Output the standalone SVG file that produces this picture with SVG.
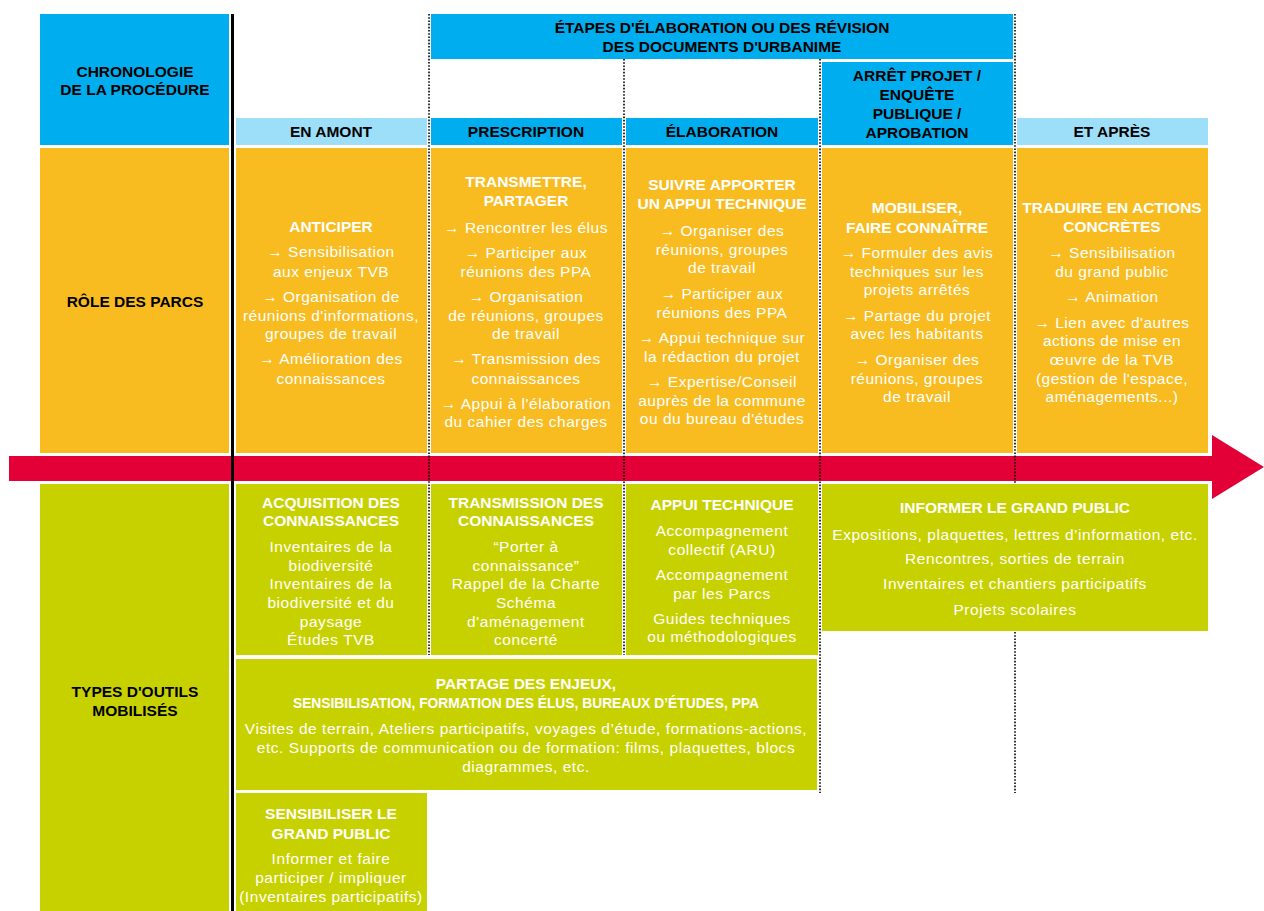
<svg xmlns="http://www.w3.org/2000/svg" width="1264" height="911" viewBox="0 0 1264 911">
<style>
.blue{fill:#00ADEE}
.lblue{fill:#9DDEF8}
.orange{fill:#F8BC21}
.green{fill:#C8D100}
text{font-family:"Liberation Sans",Arial,sans-serif;text-anchor:middle}
.hk{font-weight:700;font-size:15.5px;fill:#000}
.hw{font-weight:700;font-size:15.5px;fill:#fff}
.hw2{font-weight:700;font-size:13.8px;fill:#fff}
.tw{font-size:15.5px;letter-spacing:0.5px;fill:#fff}
.tg{font-size:15.5px;letter-spacing:0.55px;fill:#fff}
.dot{stroke:#000;stroke-width:1.6;stroke-dasharray:1.6 1.6;fill:none}
</style>
<rect width="1264" height="911" fill="#fff"/>

<g id="chronologie">
<rect class="blue" x="40" y="14" width="189" height="131"/>
<text class="hk" x="135" y="77">CHRONOLOGIE</text>
<text class="hk" x="135" y="95">DE LA PROCÉDURE</text>
</g>
<g id="etapes">
<rect class="blue" x="431" y="14" width="582" height="45"/>
<text class="hk" x="722" y="33">ÉTAPES D'ÉLABORATION OU DES RÉVISION</text>
<text class="hk" x="722" y="52">DES DOCUMENTS D'URBANIME</text>
</g>
<g id="en-amont">
<rect class="lblue" x="236" y="118" width="191" height="27"/>
<text class="hk" x="331" y="137">EN AMONT</text>
</g>
<g id="prescription">
<rect class="blue" x="431" y="118" width="191" height="27"/>
<text class="hk" x="526" y="137">PRESCRIPTION</text>
</g>
<g id="elaboration">
<rect class="blue" x="626" y="118" width="192" height="27"/>
<text class="hk" x="722" y="137">ÉLABORATION</text>
</g>
<g id="arret-projet">
<rect class="blue" x="822" y="62" width="191" height="83"/>
<text class="hk" x="917" y="81">ARRÊT PROJET /</text>
<text class="hk" x="917" y="100">ENQUÊTE</text>
<text class="hk" x="917" y="119">PUBLIQUE /</text>
<text class="hk" x="917" y="138">APROBATION</text>
</g>
<g id="et-apres">
<rect class="lblue" x="1017" y="118" width="191" height="27"/>
<text class="hk" x="1112" y="137">ET APRÈS</text>
</g>

<g id="role-des-parcs">
<rect class="orange" x="40" y="148" width="189" height="305"/>
<text class="hk" x="135" y="307">RÔLE DES PARCS</text>
</g>
<g id="anticiper">
<rect class="orange" x="236" y="148" width="191" height="305"/>
<text class="hw" x="331" y="232">ANTICIPER</text>
<text class="tw" x="331" y="257">→ Sensibilisation</text>
<text class="tw" x="331" y="277">aux enjeux TVB</text>
<text class="tw" x="331" y="302">→ Organisation de</text>
<text class="tw" x="331" y="321">réunions d'informations,</text>
<text class="tw" x="331" y="339">groupes de travail</text>
<text class="tw" x="331" y="364">→ Amélioration des</text>
<text class="tw" x="331" y="384">connaissances</text>
</g>
<g id="transmettre">
<rect class="orange" x="431" y="148" width="191" height="305"/>
<text class="hw" x="526" y="187">TRANSMETTRE,</text>
<text class="hw" x="526" y="206">PARTAGER</text>
<text class="tw" x="526" y="233">→ Rencontrer les élus</text>
<text class="tw" x="526" y="258">→ Participer aux</text>
<text class="tw" x="526" y="277">réunions des PPA</text>
<text class="tw" x="526" y="302">→ Organisation</text>
<text class="tw" x="526" y="321">de réunions, groupes</text>
<text class="tw" x="526" y="339">de travail</text>
<text class="tw" x="526" y="364">→ Transmission des</text>
<text class="tw" x="526" y="384">connaissances</text>
<text class="tw" x="526" y="409">→ Appui à l'élaboration</text>
<text class="tw" x="526" y="427">du cahier des charges</text>
</g>
<g id="suivre">
<rect class="orange" x="626" y="148" width="192" height="305"/>
<text class="hw" x="722" y="190">SUIVRE APPORTER</text>
<text class="hw" x="722" y="209">UN APPUI TECHNIQUE</text>
<text class="tw" x="722" y="236">→ Organiser des</text>
<text class="tw" x="722" y="255">réunions, groupes</text>
<text class="tw" x="722" y="273">de travail</text>
<text class="tw" x="722" y="299">→ Participer aux</text>
<text class="tw" x="722" y="318">réunions des PPA</text>
<text class="tw" x="722" y="343">→ Appui technique sur</text>
<text class="tw" x="722" y="362">la rédaction du projet</text>
<text class="tw" x="722" y="387">→ Expertise/Conseil</text>
<text class="tw" x="722" y="406">auprès de la commune</text>
<text class="tw" x="722" y="424">ou du bureau d'études</text>
</g>
<g id="mobiliser">
<rect class="orange" x="822" y="148" width="191" height="305"/>
<text class="hw" x="917" y="213">MOBILISER,</text>
<text class="hw" x="917" y="233">FAIRE CONNAÎTRE</text>
<text class="tw" x="917" y="258">→ Formuler des avis</text>
<text class="tw" x="917" y="277">techniques sur les</text>
<text class="tw" x="917" y="295">projets arrêtés</text>
<text class="tw" x="917" y="321">→ Partage du projet</text>
<text class="tw" x="917" y="339">avec les habitants</text>
<text class="tw" x="917" y="365">→ Organiser des</text>
<text class="tw" x="917" y="384">réunions, groupes</text>
<text class="tw" x="917" y="402">de travail</text>
</g>
<g id="traduire">
<rect class="orange" x="1017" y="148" width="191" height="305"/>
<text class="hw" x="1112" y="213">TRADUIRE EN ACTIONS</text>
<text class="hw" x="1112" y="232">CONCRÈTES</text>
<text class="tw" x="1112" y="258">→ Sensibilisation</text>
<text class="tw" x="1112" y="277">du grand public</text>
<text class="tw" x="1112" y="302">→ Animation</text>
<text class="tw" x="1112" y="328">→ Lien avec d'autres</text>
<text class="tw" x="1112" y="346">actions de mise en</text>
<text class="tw" x="1112" y="365">œuvre de la TVB</text>
<text class="tw" x="1112" y="384">(gestion de l'espace,</text>
<text class="tw" x="1112" y="402">aménagements...)</text>
</g>

<g id="connectors">
<polygon fill="#E30037" points="9,456 1212,456 1212,435 1264,467 1212,499 1212,481 9,481"/>
</g>

<g id="types-outils">
<rect class="green" x="40" y="484" width="189" height="427"/>
<text class="hk" x="135" y="697">TYPES D'OUTILS</text>
<text class="hk" x="135" y="716">MOBILISÉS</text>
</g>
<g id="acquisition">
<rect class="green" x="236" y="484" width="191" height="171"/>
<text class="hw" x="331" y="508">ACQUISITION DES</text>
<text class="hw" x="331" y="526">CONNAISSANCES</text>
<text class="tg" x="331" y="552">Inventaires de la</text>
<text class="tg" x="331" y="571">biodiversité</text>
<text class="tg" x="331" y="589">Inventaires de la</text>
<text class="tg" x="331" y="608">biodiversité et du</text>
<text class="tg" x="331" y="627">paysage</text>
<text class="tg" x="331" y="645">Études TVB</text>
</g>
<g id="transmission">
<rect class="green" x="431" y="484" width="191" height="171"/>
<text class="hw" x="526" y="508">TRANSMISSION DES</text>
<text class="hw" x="526" y="526">CONNAISSANCES</text>
<text class="tg" x="526" y="552">“Porter à</text>
<text class="tg" x="526" y="571">connaissance”</text>
<text class="tg" x="526" y="589">Rappel de la Charte</text>
<text class="tg" x="526" y="608">Schéma</text>
<text class="tg" x="526" y="627">d'aménagement</text>
<text class="tg" x="526" y="645">concerté</text>
</g>
<g id="appui-technique">
<rect class="green" x="626" y="484" width="192" height="171"/>
<text class="hw" x="722" y="510">APPUI TECHNIQUE</text>
<text class="tg" x="722" y="536">Accompagnement</text>
<text class="tg" x="722" y="555">collectif (ARU)</text>
<text class="tg" x="722" y="580">Accompagnement</text>
<text class="tg" x="722" y="599">par les Parcs</text>
<text class="tg" x="722" y="624">Guides techniques</text>
<text class="tg" x="722" y="642">ou méthodologiques</text>
</g>
<g id="informer">
<rect class="green" x="822" y="484" width="386" height="147"/>
<text class="hw" x="1015" y="513">INFORMER LE GRAND PUBLIC</text>
<text class="tg" x="1015" y="540">Expositions, plaquettes, lettres d’information, etc.</text>
<text class="tg" x="1015" y="564">Rencontres, sorties de terrain</text>
<text class="tg" x="1015" y="589">Inventaires et chantiers participatifs</text>
<text class="tg" x="1015" y="615">Projets scolaires</text>
</g>
<g id="partage">
<rect class="green" x="236" y="659" width="581" height="131"/>
<text class="hw" x="526" y="689">PARTAGE DES ENJEUX,</text>
<text class="hw2" x="526" y="708">SENSIBILISATION, FORMATION DES ÉLUS, BUREAUX D’ÉTUDES, PPA</text>
<text class="tg" x="526" y="734">Visites de terrain, Ateliers participatifs, voyages d’étude, formations-actions,</text>
<text class="tg" x="526" y="753">etc. Supports de communication ou de formation: films, plaquettes, blocs</text>
<text class="tg" x="526" y="772">diagrammes, etc.</text>
</g>
<g id="sensibiliser">
<rect class="green" x="236" y="793" width="191" height="118"/>
<text class="hw" x="331" y="819">SENSIBILISER LE</text>
<text class="hw" x="331" y="839">GRAND PUBLIC</text>
<text class="tg" x="331" y="864">Informer et faire</text>
<text class="tg" x="331" y="883">participer / impliquer</text>
<text class="tg" x="331" y="902">(Inventaires participatifs)</text>
</g>

<g id="guides">
<line class="dot" x1="429" y1="14" x2="429" y2="655"/>
<line class="dot" x1="624" y1="59" x2="624" y2="655"/>
<line class="dot" x1="820" y1="59" x2="820" y2="793"/>
<line class="dot" x1="1015" y1="14" x2="1015" y2="483"/>
<line class="dot" x1="1015" y1="632" x2="1015" y2="793"/>
<rect x="231" y="14" width="3" height="897" fill="#000"/>
</g>
</svg>
